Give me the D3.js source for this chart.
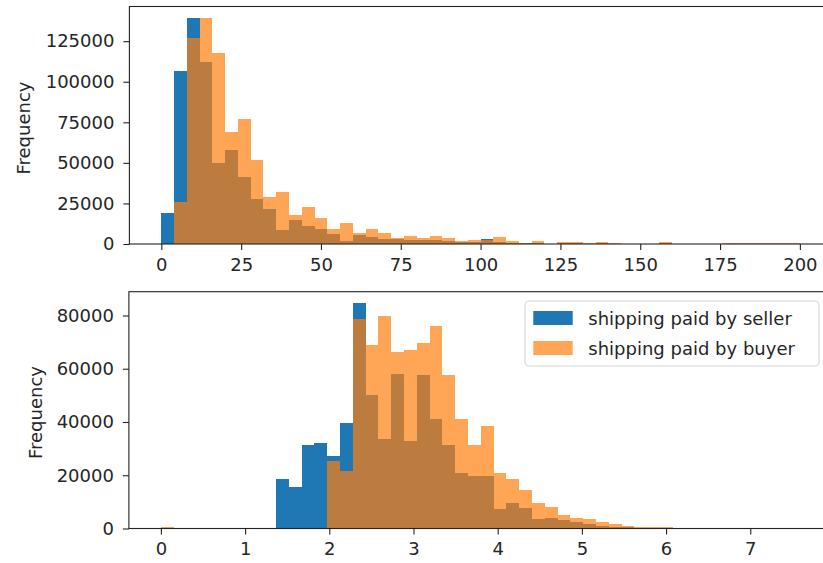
<!DOCTYPE html>
<html>
<head>
<meta charset="utf-8">
<script src="https://cdn.jsdelivr.net/npm/d3@7"></script>
<style>
  html, body { margin: 0; padding: 0; background: #fff; }
  svg { display: block; font-family: "DejaVu Sans", sans-serif; }
</style>
</head>
<body>
<svg id="chart" width="823" height="563"></svg>
<script>
// ---------- DATA ----------
// Top panel: price histogram, 50 bins over [0, 200]
const topBinStart = 0;
const topBinWidth = 4;
const topSeller = [19000, 106700, 139400, 112300, 49700, 57900, 41500, 27700, 21300, 8600,
                   14800, 11100, 9200, 6000, 2000, 5500, 4500, 3300, 3300, 2700,
                   2500, 2300, 1800, 1200, 1200, 3100, 1200, 800, 400, 600,
                   300, 500, 500, 300, 500, 200, 200, 200, 200, 500,
                   200, 150, 150, 150, 300, 200, 300, 200, 300, 200];
const topBuyer = [0, 26000, 127000, 139400, 117800, 69200, 76800, 51700, 29100, 31800,
                  17900, 22600, 16200, 9200, 13100, 7000, 9400, 6800, 3500, 5100,
                  3500, 5100, 3500, 1800, 2700, 2200, 4300, 1800, 800, 1800,
                  300, 1200, 1200, 400, 1200, 400, 300, 300, 300, 1200,
                  300, 200, 200, 200, 500, 500, 500, 500, 500, 500];
const topXTicks = [0, 25, 50, 75, 100, 125, 150, 175, 200];
const topYTicks = [0, 25000, 50000, 75000, 100000, 125000];

// Bottom panel: log(price+1) histogram, 50 bins over [0, 7.6]
const botBinStart = 0;
const botBinWidth = 0.152;
const botSeller = [0, 0, 0, 0, 0, 0, 0, 0, 0, 18500,
                   15700, 31200, 32200, 27200, 39700, 84700, 50300, 33800, 58200, 32800,
                   57600, 41000, 31200, 20900, 19700, 19700, 7200, 9700, 7600, 3400,
                   3900, 3200, 2300, 1600, 1100, 600, 600, 300, 200, 200,
                   80, 50, 30, 20, 10, 10, 5, 5, 5, 5];
const botBuyer = [400, 0, 0, 0, 0, 0, 0, 0, 0, 0,
                  0, 0, 0, 25300, 21600, 78500, 68800, 79700, 66200, 67200,
                  69500, 76000, 57600, 41300, 31300, 38500, 20900, 18500, 14400, 9700,
                  8200, 4900, 3800, 3400, 2300, 1600, 1100, 600, 400, 400,
                  100, 80, 50, 30, 20, 10, 10, 5, 5, 5];
const botXTicks = [0, 1, 2, 3, 4, 5, 6, 7];
const botYTicks = [0, 20000, 40000, 60000, 80000];

const seriesNames = ["shipping paid by seller", "shipping paid by buyer"];
const seriesColors = ["#1f77b4", "#ff7f0e"];

// ---------- DRAW ----------
const svg = d3.select("#chart");
const FONT = 18;
const TXT = "#262626";

function panel(cfg) {
  const {left, right, top, bottom, binStart, binWidth, seller, buyer, xTicks, yTicks, xMinPad} = cfg;
  const nb = seller.length;
  const dMin = binStart, dMax = binStart + nb * binWidth;
  const pad = (dMax - dMin) * 0.05;
  const x = d3.scaleLinear().domain([dMin - pad, dMax + pad]).range([left, right]);
  const maxV = d3.max(seller.concat(buyer));
  const y = d3.scaleLinear().domain([0, maxV * 1.05]).range([bottom, top]);

  const g = svg.append("g");
  const series = [seller, buyer];
  series.forEach((vals, si) => {
    g.append("g").selectAll("rect")
      .data(vals.map((v, i) => ({v, i})).filter(d => d.v > 0))
      .join("rect")
      .attr("x", d => x(binStart + d.i * binWidth))
      .attr("width", d => x(binStart + (d.i + 1) * binWidth) - x(binStart + d.i * binWidth))
      .attr("y", d => y(d.v))
      .attr("height", d => y(0) - y(d.v))
      .attr("fill", seriesColors[si])
      .attr("fill-opacity", si === 1 ? 0.7 : 1)
      .attr("shape-rendering", "crispEdges");
  });

  // axes
  const xAxis = d3.axisBottom(x).tickValues(xTicks).tickSize(6).tickPadding(8).tickFormat(d3.format("d"));
  const yAxis = d3.axisLeft(y).tickValues(yTicks).tickSize(6).tickPadding(9).tickFormat(d3.format("d"));
  const gx = g.append("g").attr("transform", `translate(0,${bottom})`).call(xAxis);
  const gy = g.append("g").attr("transform", `translate(${left},0)`).call(yAxis);
  [gx, gy].forEach(a => {
    a.select(".domain").remove();
    a.selectAll(".tick line").attr("stroke", "#222").attr("stroke-width", 1.1);
    a.selectAll(".tick text").attr("fill", TXT).style("font-size", FONT + "px")
      .style("font-family", "'DejaVu Sans', sans-serif");
  });

  // frame (spines)
  g.append("rect")
    .attr("x", left).attr("y", top)
    .attr("width", right - left).attr("height", bottom - top)
    .attr("fill", "none").attr("stroke", "#222").attr("stroke-width", 1.1);

  return {x, y, g};
}

const p1 = panel({left: 129.4, right: 831.8, top: 6.5, bottom: 244,
  binStart: topBinStart, binWidth: topBinWidth, seller: topSeller, buyer: topBuyer,
  xTicks: topXTicks, yTicks: topYTicks});
const p2 = panel({left: 128.9, right: 832.8, top: 291.7, bottom: 528.5,
  binStart: botBinStart, binWidth: botBinWidth, seller: botSeller, buyer: botBuyer,
  xTicks: botXTicks, yTicks: botYTicks});

// y labels
svg.append("text").attr("transform", "translate(23.5,128) rotate(-90)")
  .attr("text-anchor", "middle").attr("dominant-baseline", "central")
  .attr("fill", TXT).style("font-size", FONT + "px").text("Frequency");
svg.append("text").attr("transform", "translate(35,412.5) rotate(-90)")
  .attr("text-anchor", "middle").attr("dominant-baseline", "central")
  .attr("fill", TXT).style("font-size", FONT + "px").text("Frequency");

// legend (bottom panel)
const lg = svg.append("g");
lg.append("rect").attr("x", 525).attr("y", 301).attr("width", 294).attr("height", 65)
  .attr("rx", 4).attr("fill", "#fff").attr("fill-opacity", 0.8)
  .attr("stroke", "#d6d6d6").attr("stroke-width", 1.1);
seriesNames.forEach((name, i) => {
  const cy = 318 + i * 30;
  lg.append("rect").attr("x", 533.3).attr("y", cy - 7).attr("width", 39.4).attr("height", 14)
    .attr("fill", seriesColors[i]).attr("fill-opacity", i === 1 ? 0.7 : 1);
  lg.append("text").attr("x", 588.3).attr("y", cy).attr("dominant-baseline", "central")
    .attr("fill", TXT).style("font-size", FONT + "px").text(name);
});
</script>
</body>
</html>
